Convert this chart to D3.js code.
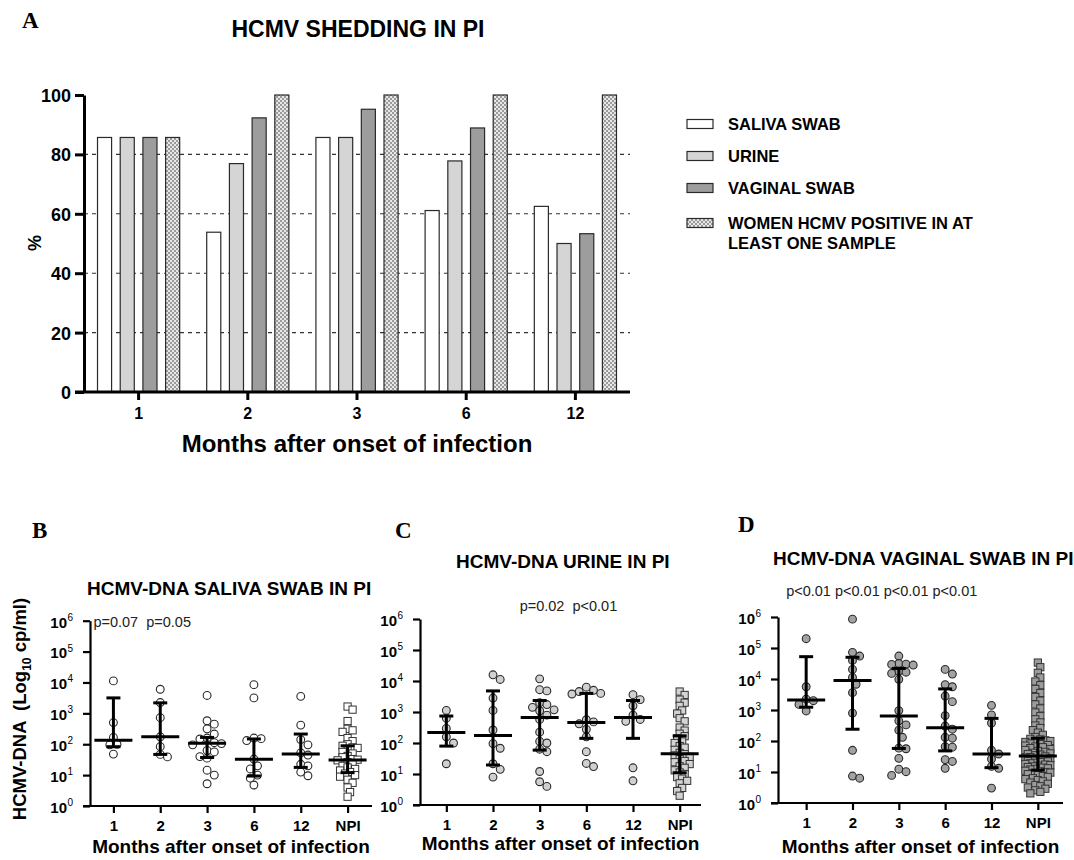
<!DOCTYPE html>
<html>
<head>
<meta charset="utf-8">
<script src="https://cdn.jsdelivr.net/npm/d3@7"></script>
<style>
  body { margin: 0; background: #fff; }
  svg { display: block; font-family: "Liberation Sans", Arial, sans-serif; }
</style>
</head>
<body>
<svg width="1074" height="860"></svg>
<script>
// ---- panel A data: % of women shedding ----
const months = ['1', '2', '3', '6', '12'];
const sheddingSeries = ['SALIVA SWAB', 'URINE', 'VAGINAL SWAB', 'WOMEN HCMV POSITIVE IN AT LEAST ONE SAMPLE'];
const salivaPct  = [85.7, 53.8, 85.7, 61.1, 62.5];
const urinePct   = [85.7, 76.9, 85.7, 77.8, 50.0];
const vaginalPct = [85.7, 92.3, 95.2, 88.9, 53.3];
const anyPct     = [85.7, 100, 100, 100, 100];
const pctTicks = [0, 20, 40, 60, 80, 100];

// ---- panels B-D data: log10 cp/ml ----
const groups = ['1', '2', '3', '6', '12', 'NPI'];
const logTicks = [0, 1, 2, 3, 4, 5, 6];

const salivaDNA = [
  [4.05, 2.7, 2.22, 2.0, 1.98, 1.68],
  [3.78, 3.35, 2.86, 2.24, 1.92, 1.67, 1.59],
  [3.58, 2.76, 2.65, 2.5, 2.33, 2.2, 2.17, 2.05, 2.02, 1.98, 1.8, 1.75, 1.6, 1.55, 1.16, 1.0, 0.72],
  [3.93, 3.5, 2.2, 2.18, 2.12, 1.52, 1.3, 1.2, 1.0, 0.9, 0.68],
  [3.55, 2.62, 2.15, 1.98, 1.72, 1.65, 1.35, 1.3, 1.1, 0.98],
  [3.22, 3.12, 2.75, 2.5, 2.45, 2.4, 2.2, 2.1, 2.0, 1.95, 1.9, 1.88, 1.8, 1.75, 1.7, 1.62, 1.58, 1.52,
   1.5, 1.48, 1.42, 1.35, 1.3, 1.25, 1.2, 1.15, 1.1, 1.05, 1.0, 0.95, 0.85, 0.75, 0.6, 0.45, 0.3]
];
const salivaMed = [2.13, 2.24, 2.03, 1.51, 1.68, 1.49];
const salivaQ1  = [1.92, 1.67, 1.57, 0.97, 1.25, 1.08];
const salivaQ3  = [3.5, 3.34, 2.22, 2.17, 2.33, 1.95];
const salivaP   = ['p=0.07', 'p=0.05'];

const urineDNA = [
  [3.05, 2.8, 2.47, 2.2, 2.0, 1.33],
  [4.2, 4.05, 3.45, 3.05, 2.42, 1.98, 1.83, 1.33, 1.15, 0.9],
  [4.07, 3.72, 3.68, 3.3, 3.24, 3.15, 3.07, 3.04, 2.9, 2.76, 2.35, 2.05, 2.0, 1.8, 1.72, 1.08, 0.75, 0.6],
  [3.8, 3.7, 3.66, 3.6, 3.58, 2.75, 2.68, 2.62, 2.44, 2.2, 1.72, 1.34, 1.24],
  [3.56, 3.4, 3.2, 2.9, 2.76, 2.7, 1.2, 0.78],
  [3.66, 3.55, 3.4, 3.3, 3.2, 3.05, 2.95, 2.8, 2.7, 2.5, 2.4, 2.3, 2.22, 2.15, 2.05, 2.0, 1.9, 1.85,
   1.78, 1.68, 1.64, 1.6, 1.55, 1.48, 1.42, 1.38, 1.32, 1.25, 1.2, 1.12, 1.05, 1.0, 0.9, 0.85, 0.78,
   0.7, 0.55, 0.45, 0.3]
];
const urineMed = [2.34, 2.24, 2.82, 2.66, 2.82, 1.65];
const urineQ1  = [1.9, 1.29, 1.77, 2.15, 2.15, 1.04];
const urineQ3  = [2.87, 3.68, 3.37, 3.6, 3.37, 2.23];
const urineP   = ['p=0.02', 'p<0.01'];

const vaginalDNA = [
  [5.3, 3.75, 3.35, 3.3, 3.18, 2.97],
  [5.93, 4.86, 4.74, 4.6, 4.31, 4.05, 3.83, 3.56, 2.9, 1.7, 0.87, 0.8],
  [4.74, 4.5, 4.48, 4.47, 4.45, 4.25, 4.22, 4.18, 3.99, 2.98, 2.65, 2.52, 2.35, 2.12, 1.77, 1.75, 1.44, 1.09, 1.01, 0.89],
  [4.31, 4.16, 3.82, 3.75, 3.45, 3.27, 2.82, 2.48, 2.38, 2.12, 2.09, 1.82, 1.8, 1.4, 1.34, 1.12],
  [3.15, 2.84, 2.58, 1.7, 1.58, 1.42, 1.18, 1.12, 0.48],
  [4.53, 4.38, 4.2, 4.05, 3.92, 3.8, 3.68, 3.55, 3.42, 3.3, 3.18, 3.05, 2.92, 2.8, 2.7, 2.6, 2.5, 2.42,
   2.35, 2.27, 2.2, 2.13, 2.07, 2.05, 2.02, 2.0, 1.97, 1.95, 1.92, 1.9, 1.87, 1.85, 1.82, 1.8, 1.77,
   1.74, 1.71, 1.68, 1.65, 1.62, 1.6, 1.58, 1.56, 1.54, 1.5, 1.48, 1.46, 1.44, 1.42, 1.4, 1.38, 1.36,
   1.34, 1.32, 1.3, 1.28, 1.26, 1.24, 1.22, 1.2, 1.18, 1.16, 1.14, 1.12, 1.1, 1.08, 1.04, 1.02, 1.0,
   0.98, 0.96, 0.93, 0.9, 0.87, 0.84, 0.8, 0.77, 0.74, 0.7, 0.66, 0.62, 0.58, 0.54, 0.5, 0.46, 0.41,
   0.36, 0.31]
];
const vaginalMed = [3.32, 3.95, 2.81, 2.43, 1.58, 1.52];
const vaginalQ1  = [3.09, 2.38, 1.76, 1.68, 1.14, 1.06];
const vaginalQ3  = [4.72, 4.7, 4.34, 3.68, 2.73, 2.09];
const vaginalP   = ['p<0.01', 'p<0.01', 'p<0.01', 'p<0.01'];

const svg = d3.select('svg');
const serif = '"Liberation Serif", "Times New Roman", serif';

// checkered fill for the "at least one sample" series
const pat = svg.append('defs').append('pattern')
  .attr('id', 'checker').attr('patternUnits', 'userSpaceOnUse')
  .attr('width', 4).attr('height', 4);
pat.append('rect').attr('width', 4).attr('height', 4).attr('fill', '#e8e8e8');
pat.append('rect').attr('width', 2).attr('height', 2).attr('fill', '#9a9a9a');
pat.append('rect').attr('x', 2).attr('y', 2).attr('width', 2).attr('height', 2).attr('fill', '#9a9a9a');

const barFills = ['#ffffff', '#d5d5d5', '#9d9d9d', 'url(#checker)'];

// ================= panel A =================
const A = svg.append('g');
const xA = d3.scaleBand().domain(months).range([84, 630]);
const xSub = d3.scaleBand().domain(d3.range(4)).range([-45.4, 45.4]).paddingInner(0.38).paddingOuter(0.19);
const yA = d3.scaleLinear().domain([0, 100]).range([392, 95]);

A.append('text').attr('x', 22).attr('y', 28).attr('font-family', serif)
  .attr('font-weight', 'bold').attr('font-size', 23).text('A');
A.append('text').attr('x', 358).attr('y', 37).attr('text-anchor', 'middle')
  .attr('font-weight', 'bold').attr('font-size', 23).text('HCMV SHEDDING IN PI');

// dashed grid
A.append('g').selectAll('line').data(pctTicks.filter(d => d > 0 && d < 100)).join('line')
  .attr('x1', 84).attr('x2', 630).attr('y1', d => yA(d)).attr('y2', d => yA(d))
  .attr('stroke', '#333').attr('stroke-width', 1.1).attr('stroke-dasharray', '4,4');

const seriesPct = [salivaPct, urinePct, vaginalPct, anyPct];
const barRows = [];
months.forEach((m, i) => seriesPct.forEach((s, j) => barRows.push({ m, j, v: s[i] })));
A.append('g').selectAll('rect').data(barRows).join('rect')
  .attr('x', d => xA(d.m) + xA.bandwidth() / 2 + xSub(d.j))
  .attr('width', xSub.bandwidth())
  .attr('y', d => yA(d.v))
  .attr('height', d => yA(0) - yA(d.v))
  .attr('fill', d => barFills[d.j])
  .attr('stroke', '#2a2a2a').attr('stroke-width', 1.2);

// axes A
const yAxisA = A.append('g').attr('transform', 'translate(84,0)')
  .call(d3.axisLeft(yA).tickValues(pctTicks).tickSize(9).tickSizeOuter(0));
const xAxisA = A.append('g').attr('transform', 'translate(0,392)')
  .call(d3.axisBottom(xA).tickSize(8).tickSizeOuter(0));
[yAxisA, xAxisA].forEach(g => {
  g.select('.domain').attr('stroke', '#000').attr('stroke-width', 3);
  g.selectAll('.tick line').attr('stroke', '#000').attr('stroke-width', 3);
  g.selectAll('.tick text').attr('font-family', null).attr('font-weight', 'bold').attr('fill', '#000');
});
xAxisA.select('.domain').attr('d', 'M75,0H630');
yAxisA.selectAll('.tick text').attr('font-size', 18).attr('x', -13).attr('dy', '0.36em');
xAxisA.selectAll('.tick text').attr('font-size', 16).attr('y', 16);

A.append('text').attr('transform', 'translate(41,243) rotate(-90)').attr('text-anchor', 'middle')
  .attr('font-weight', 'bold').attr('font-size', 18).text('%');
A.append('text').attr('x', 357).attr('y', 452).attr('text-anchor', 'middle')
  .attr('font-weight', 'bold').attr('font-size', 24).text('Months after onset of infection');

// legend
const legendLines = [['SALIVA SWAB'], ['URINE'], ['VAGINAL SWAB'], ['WOMEN HCMV POSITIVE IN AT', 'LEAST ONE SAMPLE']];
const legY = d3.scalePoint().domain(d3.range(4)).range([124, 220]);
const leg = A.append('g').selectAll('g').data(sheddingSeries).join('g')
  .attr('transform', (d, i) => `translate(687,${legY(i) + (i === 3 ? 3 : 0)})`);
leg.append('rect').attr('y', -4.5).attr('width', 26).attr('height', 9)
  .attr('fill', (d, i) => barFills[i]).attr('stroke', '#2a2a2a').attr('stroke-width', 1.2);
leg.append('text').attr('x', 41).attr('y', 6).attr('font-weight', 'bold').attr('font-size', 16.5)
  .selectAll('tspan').data((d, i) => legendLines[i]).join('tspan')
  .attr('x', 41).attr('dy', (d, k) => k === 0 ? 0 : 20).text(d => d);

// ================= panels B-D =================
function swarm(pys, maxW, minD) {
  const order = d3.range(pys.length).sort((a, b) => pys[a] - pys[b]);
  const placed = [];
  const out = new Array(pys.length);
  const step = minD / 2;
  const cands = [0];
  for (let k = 1; k * step <= maxW; k++) cands.push(k * step, -k * step);
  order.forEach(i => {
    const py = pys[i];
    let best = null, bestD = -1;
    for (const dx of cands) {
      let md = Infinity;
      for (const p of placed) {
        const d = Math.hypot(p[0] - dx, p[1] - py);
        if (d < md) md = d;
      }
      if (md >= minD) { best = dx; break; }
      if (md > bestD) { bestD = md; best = dx; }
    }
    placed.push([best, py]);
    out[i] = best;
  });
  return out;
}

function dotPanel(cfg) {
  const g = svg.append('g');
  const x = d3.scalePoint().domain(groups).range(cfg.range).padding(0.5);
  const y = d3.scaleLinear().domain([0, 6]).range([cfg.y0, cfg.y6]);

  g.append('text').attr('x', cfg.letterX).attr('y', cfg.letterY).attr('font-family', serif)
    .attr('font-weight', 'bold').attr('font-size', 23).text(cfg.letter);
  g.append('text').attr('x', cfg.titleX).attr('y', cfg.titleY)
    .attr('font-weight', 'bold').attr('font-size', 19).text(cfg.title);

  // p values
  g.append('text').attr('x', x(groups[cfg.pFrom]) - 20).attr('y', cfg.pY)
    .attr('font-size', 14.5).attr('fill', '#222').style('white-space', 'pre')
    .text(cfg.p.join(cfg.pSep));

  // points
  cfg.data.forEach((vals, gi) => {
    const pys = vals.map(v => y(v));
    const isSq = groups[gi] === 'NPI';
    const offs = isSq ? swarm(pys, 14, 5) : swarm(pys, 20, 7.2);
    const cx = x(groups[gi]);
    if (isSq) {
      g.append('g').selectAll('rect').data(vals).join('rect')
        .attr('x', (d, i) => cx + offs[i] - 3.6).attr('y', d => y(d) - 3.6)
        .attr('width', 7.2).attr('height', 7.2)
        .attr('fill', cfg.sqFill).attr('stroke', '#333').attr('stroke-width', 1);
    } else {
      g.append('g').selectAll('circle').data(vals).join('circle')
        .attr('cx', (d, i) => cx + offs[i]).attr('cy', d => y(d)).attr('r', 3.9)
        .attr('fill', cfg.dotFill).attr('stroke', '#2a2a2a').attr('stroke-width', 1.1);
    }
  });

  // median + interquartile range
  const eb = g.append('g').attr('stroke', '#000').attr('stroke-width', 3);
  groups.forEach((k, i) => {
    const cx = x(k);
    eb.append('line').attr('x1', cx - 19).attr('x2', cx + 19).attr('y1', y(cfg.med[i])).attr('y2', y(cfg.med[i]));
    eb.append('line').attr('x1', cx).attr('x2', cx).attr('y1', y(cfg.q1[i])).attr('y2', y(cfg.q3[i]));
    eb.append('line').attr('x1', cx - 7).attr('x2', cx + 7).attr('y1', y(cfg.q1[i])).attr('y2', y(cfg.q1[i]));
    eb.append('line').attr('x1', cx - 7).attr('x2', cx + 7).attr('y1', y(cfg.q3[i])).attr('y2', y(cfg.q3[i]));
  });

  // axes
  const ya = g.append('g').attr('transform', `translate(${cfg.axisX},0)`)
    .call(d3.axisLeft(y).tickValues(logTicks).tickSize(7).tickSizeOuter(0).tickFormat(''));
  const xa = g.append('g').attr('transform', `translate(0,${cfg.y0})`)
    .call(d3.axisBottom(x).tickSize(7).tickSizeOuter(0));
  [ya, xa].forEach(a => {
    a.select('.domain').attr('stroke', '#000').attr('stroke-width', 2.2);
    a.selectAll('.tick line').attr('stroke', '#000').attr('stroke-width', 2.2);
  });
  xa.select('.domain').attr('d', `M${cfg.axisX - 7},0H${cfg.xEnd}`);
  xa.selectAll('.tick text').attr('font-family', null).attr('font-weight', 'bold')
    .attr('font-size', 15).attr('fill', '#000').attr('y', 14);
  ya.selectAll('.tick').append('text').attr('x', -23).attr('dy', '0.42em')
    .attr('text-anchor', 'end').attr('font-family', null).attr('font-weight', 'bold')
    .attr('font-size', 15).attr('fill', '#000').text('10');
  ya.selectAll('.tick').append('text').attr('x', -22.5).attr('dy', '-0.05em')
    .attr('text-anchor', 'start').attr('font-family', null).attr('font-size', 10)
    .attr('fill', '#000').text(d => d);

  g.append('text').attr('x', (cfg.axisX + cfg.xEnd) / 2).attr('y', cfg.xTitleY).attr('text-anchor', 'middle')
    .attr('font-weight', 'bold').attr('font-size', 19).text('Months after onset of infection');
  return g;
}

dotPanel({
  letter: 'B', letterX: 32, letterY: 538, title: 'HCMV-DNA SALIVA SWAB IN PI', titleX: 87, titleY: 595,
  range: [90, 371], axisX: 90, xEnd: 372, y0: 806, y6: 620.7, xTitleY: 853,
  data: salivaDNA, med: salivaMed, q1: salivaQ1, q3: salivaQ3,
  p: salivaP, pFrom: 0, pSep: '  ', pY: 627,
  dotFill: '#ffffff', sqFill: '#ffffff'
});
dotPanel({
  letter: 'C', letterX: 395, letterY: 538, title: 'HCMV-DNA URINE IN PI', titleX: 456, titleY: 568,
  range: [423, 703], axisX: 420, xEnd: 701, y0: 805, y6: 619, xTitleY: 850,
  data: urineDNA, med: urineMed, q1: urineQ1, q3: urineQ3,
  p: urineP, pFrom: 2, pSep: '  ', pY: 611,
  dotFill: '#d0d0d0', sqFill: '#d3d3d3'
});
dotPanel({
  letter: 'D', letterX: 738, letterY: 532, title: 'HCMV-DNA VAGINAL SWAB IN PI', titleX: 773, titleY: 565,
  range: [783, 1061], axisX: 778, xEnd: 1063, y0: 803, y6: 617, xTitleY: 853,
  data: vaginalDNA, med: vaginalMed, q1: vaginalQ1, q3: vaginalQ3,
  p: vaginalP, pFrom: 0, pSep: ' ', pY: 596,
  dotFill: '#a3a3a3', sqFill: '#9c9c9c'
});

// shared y title on the left
const yt = svg.append('text').attr('transform', 'translate(26,709) rotate(-90)')
  .attr('text-anchor', 'middle').attr('font-weight', 'bold').attr('font-size', 18.5);
yt.append('tspan').text('HCMV-DNA  (Log').style('white-space', 'pre');
yt.append('tspan').attr('font-size', 12).attr('dy', 5).text('10');
yt.append('tspan').attr('dy', -5).text(' cp/ml)');
</script>
</body>
</html>
